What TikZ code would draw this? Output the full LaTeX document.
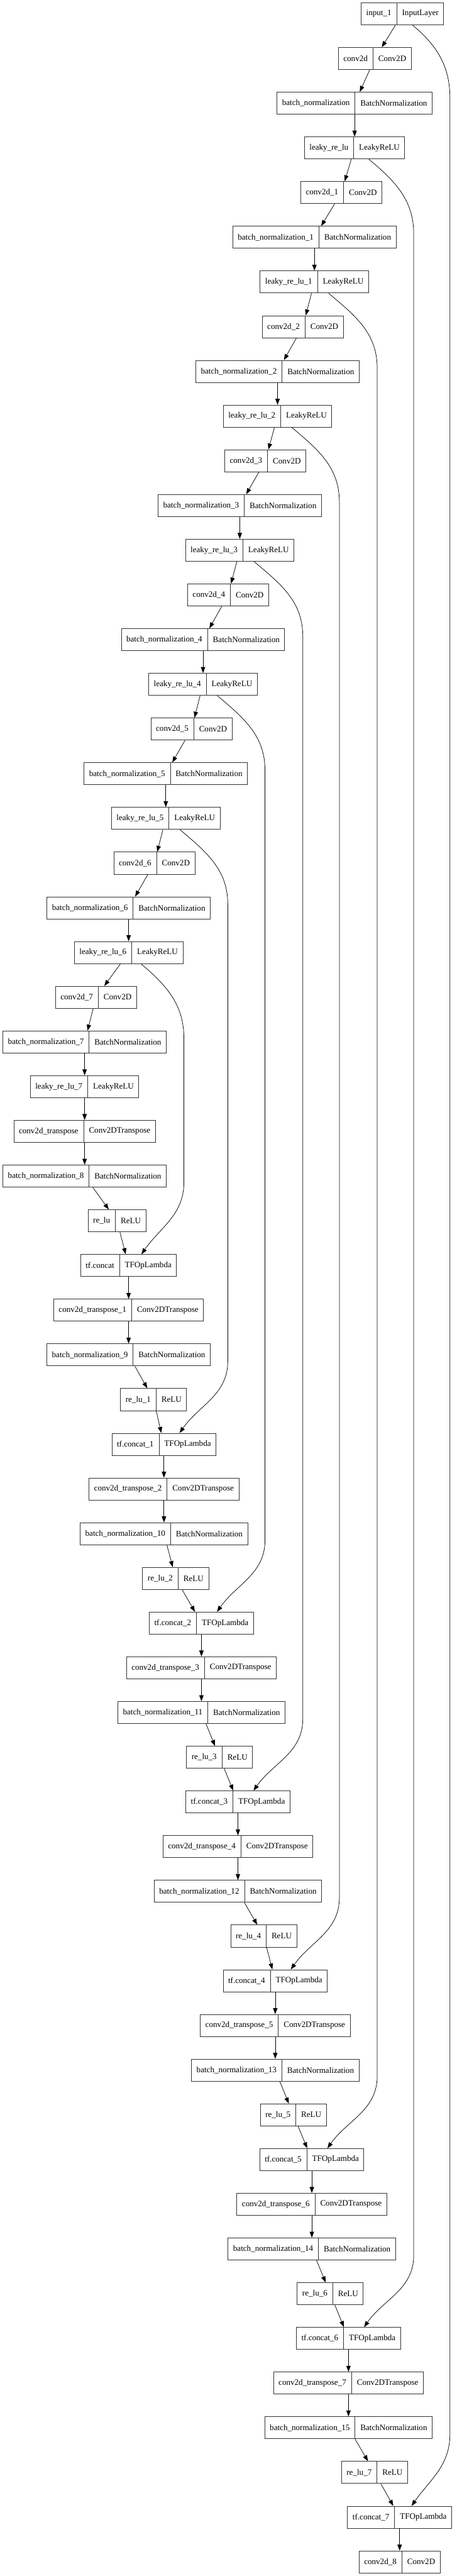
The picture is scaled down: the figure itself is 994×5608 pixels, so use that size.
\documentclass[tikz,border=0pt]{standalone}
\usepackage{fontspec}
\setmainfont{Liberation Serif}
\usetikzlibrary{shapes.multipart, arrows.meta, calc}
\tikzset{
    layer/.style={
        rectangle split, rectangle split horizontal, rectangle split parts=2,
        draw=black!80, line width=0.7pt, fill=white, inner xsep=0.22cm, inner ysep=0pt,
        minimum height=0.96cm, anchor=center, font=\fontsize{10.2pt}{12pt}\selectfont
    },
    conn/.style={
        -{Triangle[length=0.26cm, width=0.19cm]}, line width=0.57pt, black
    }
}
\begin{document}
\begin{tikzpicture}[x=0.02cm, y=0.02cm]
\useasboundingbox (0,0) rectangle (994,-5608);
% layers, top to bottom
\foreach \n/\x/\a/\b [count=\i from 0, remember=\n as \prev (initially in1)] in {
    in1/876.5/input\_1/InputLayer,
    c0/816.4/conv2d/Conv2D,
    bn0/772.4/batch\_normalization/BatchNormalization,
    lr0/772.4/leaky\_re\_lu/LeakyReLU,
    c1/743.5/conv2d\_1/Conv2D,
    bn1/684.8/batch\_normalization\_1/BatchNormalization,
    lr1/684.8/leaky\_re\_lu\_1/LeakyReLU,
    c2/659.5/conv2d\_2/Conv2D,
    bn2/604.5/batch\_normalization\_2/BatchNormalization,
    lr2/604.5/leaky\_re\_lu\_2/LeakyReLU,
    c3/577.9/conv2d\_3/Conv2D,
    bn3/522.2/batch\_normalization\_3/BatchNormalization,
    lr3/522.2/leaky\_re\_lu\_3/LeakyReLU,
    c4/496.9/conv2d\_4/Conv2D,
    bn4/442.2/batch\_normalization\_4/BatchNormalization,
    lr4/442.2/leaky\_re\_lu\_4/LeakyReLU,
    c5/417.1/conv2d\_5/Conv2D,
    bn5/361.1/batch\_normalization\_5/BatchNormalization,
    lr5/361.1/leaky\_re\_lu\_5/LeakyReLU,
    c6/336.1/conv2d\_6/Conv2D,
    bn6/280.2/batch\_normalization\_6/BatchNormalization,
    lr6/280.2/leaky\_re\_lu\_6/LeakyReLU,
    c7/209.2/conv2d\_7/Conv2D,
    bn7/184.3/batch\_normalization\_7/BatchNormalization,
    lr7/184.3/leaky\_re\_lu\_7/LeakyReLU,
    up0/184.3/conv2d\_transpose/Conv2DTranspose,
    bn8/184.3/batch\_normalization\_8/BatchNormalization,
    rl0/254.8/re\_lu/ReLU,
    cat0/280.1/tf.concat/TFOpLambda,
    up1/280.1/conv2d\_transpose\_1/Conv2DTranspose,
    bn9/280.1/batch\_normalization\_9/BatchNormalization,
    rl1/334.5/re\_lu\_1/ReLU,
    cat1/357.1/tf.concat\_1/TFOpLambda,
    up2/357.1/conv2d\_transpose\_2/Conv2DTranspose,
    bn10/357.1/batch\_normalization\_10/BatchNormalization,
    rl2/382.6/re\_lu\_2/ReLU,
    cat2/438.7/tf.concat\_2/TFOpLambda,
    up3/438.7/conv2d\_transpose\_3/Conv2DTranspose,
    bn11/438.7/batch\_normalization\_11/BatchNormalization,
    rl3/478.2/re\_lu\_3/ReLU,
    cat3/518.2/tf.concat\_3/TFOpLambda,
    up4/518.2/conv2d\_transpose\_4/Conv2DTranspose,
    bn12/518.2/batch\_normalization\_12/BatchNormalization,
    rl4/574.4/re\_lu\_4/ReLU,
    cat4/599.5/tf.concat\_4/TFOpLambda,
    up5/599.5/conv2d\_transpose\_5/Conv2DTranspose,
    bn13/599.5/batch\_normalization\_13/BatchNormalization,
    rl5/639/re\_lu\_5/ReLU,
    cat5/679.2/tf.concat\_5/TFOpLambda,
    up6/679.2/conv2d\_transpose\_6/Conv2DTranspose,
    bn14/679.2/batch\_normalization\_14/BatchNormalization,
    rl6/719.3/re\_lu\_6/ReLU,
    cat6/759/tf.concat\_6/TFOpLambda,
    up7/759/conv2d\_transpose\_7/Conv2DTranspose,
    bn15/759/batch\_normalization\_15/BatchNormalization,
    rl7/815.8/re\_lu\_7/ReLU,
    cat7/870.4/tf.concat\_7/TFOpLambda,
    c8/870.4/conv2d\_8/Conv2D}{
    \node[layer] (\n) at (\x,{-30-97.32*\i}) {\a \nodepart{two} \b};
    \ifnum\i>0 \draw[conn] (\prev) -- (\n); \fi
}
% skip connections
\foreach \s/\t/\xs/\xt/\x/\ya/\yb in {
    in1/cat7/22/26/980/-214/-5299,
    lr0/cat6/31/34/901/-509/-4910,
    lr1/cat5/31/34/821.5/-801/-4520,
    lr2/cat4/31/34/739.2/-1093/-4131,
    lr3/cat3/31/34/659.5/-1385/-3742,
    lr4/cat2/31/34/577.2/-1677/-3353,
    lr5/cat1/31/34/496.2/-1969/-2963,
    lr6/cat0/27/28/400.6/-2261/-2574}
    \draw[conn] ($(\s.south)+(\xs,0)$) to[out=-40,in=90] (\x,\ya) -- (\x,\yb) to[out=-90,in=55] ($(\t.north)+(\xt,0)$);
\end{tikzpicture}
\end{document}
